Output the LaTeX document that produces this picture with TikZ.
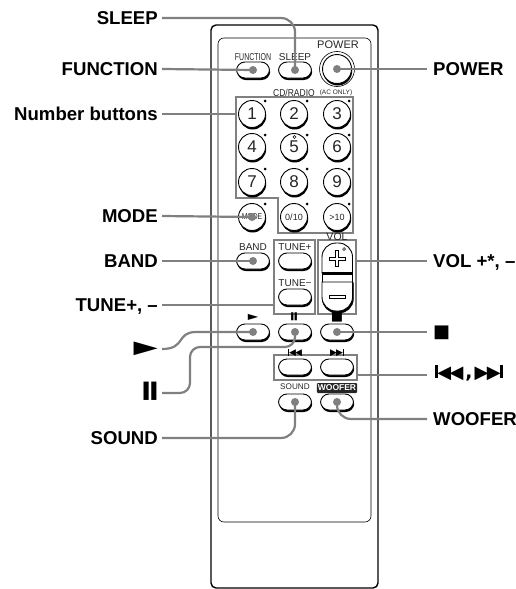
\documentclass[tikz,border=0pt]{standalone}
\usepackage{fontspec}
\usepackage{graphicx}
\setmainfont{Liberation Sans}
\newfontfamily\symfont{DejaVu Sans}
\usetikzlibrary{shadows}
\definecolor{leadgray}{HTML}{808080}
\tikzset{
    lead/.style={draw=leadgray,line width=2.2pt},
    keyframe/.style={draw=leadgray,line width=2.2pt,inner sep=0pt},
    lbl/.style={font=\fontsize{18.6}{18.6}\selectfont\bfseries,text height=13.4pt,text depth=0pt,inner ysep=2pt},
    leftlbl/.style={lbl,anchor=east,inner xsep=4pt},
    rightlbl/.style={lbl,anchor=west,inner xsep=6pt},
    flatkey/.style={draw,fill=white,line width=.9pt,rounded corners=8.5pt,minimum width=33pt,minimum height=16pt,inner sep=0pt,
        general shadow={fill=black,shadow xshift=.7pt,shadow yshift=-2pt}},
    numkey/.style={draw,fill=white,circle,line width=.9pt,minimum size=27pt,inner sep=0pt,font=\fontsize{17}{17}\selectfont,text=black!85,
        general shadow={fill=black,shadow xshift=.7pt,shadow yshift=-2pt}},
    legend/.style={inner sep=0pt,text=black!85,font=\fontsize{10}{10}\selectfont},
    spot/.style={fill=black,circle,inner sep=0pt,minimum size=3pt},
    leadtip/.style={fill=leadgray,circle,inner sep=0pt,minimum size=8pt}
}
\begin{document}
\begin{tikzpicture}[x=1pt,y=-1pt]
    \useasboundingbox (0,0) rectangle (516,589);

    \draw[line width=1.4pt,rounded corners=5pt] (211,25) rectangle (378,588);
    \draw[line width=.6pt,rounded corners=6pt] (218,38) rectangle (371,522);

    \draw[keyframe] (236,97) -- (353,97) -- (353,233) -- (278,233) -- (278,198) -- (236,198) -- cycle;
    \coordinate (framenum) at (236,114);
    \node[keyframe,minimum width=41pt,minimum height=74pt] (frametune) at (294.5,277) {};
    \node[keyframe,minimum width=38pt,minimum height=74pt] (framevol) at (337,277) {};
    \node[keyframe,minimum width=83pt,minimum height=25pt] (frameskip) at (315.5,367.5) {};

    \node[legend] at (253,57) {\scalebox{.7}[1]{FUNCTION}};
    \node[legend] at (295,57) {SLEEP};
    \node[legend,font=\fontsize{11}{11}\selectfont] at (338,45) {POWER};
    \node[legend] at (294,93) {\scalebox{.85}[1]{CD/RADIO}};
    \node[legend,font=\fontsize{6.5}{6.5}\selectfont] at (336,93) {(AC ONLY)};
    \node[legend] at (253,247) {BAND};
    \node[legend] at (295,247) {TUNE+};
    \node[legend] at (295,283) {TUNE−};
    \node[legend,font=\fontsize{10.5}{10.5}\selectfont] at (337,237) {VOL};
    \node[legend,font=\fontsize{8.2}{8.2}\selectfont] at (295,387) {SOUND};
    \node[fill=black!85,text=white,inner sep=1pt,minimum width=40pt,minimum height=10pt,rounded corners=1pt,font=\fontsize{8.5}{8.5}\selectfont\bfseries] at (337,388) {WOOFER};

    \node[flatkey] (keyfunction) at (253,70) {};
    \node[flatkey] (keysleep) at (295,70) {};
    \node[draw,circle,line width=.6pt,minimum size=35pt] (ringpower) at (337,69) {};
    \node[numkey,minimum size=29pt] (keypower) at (337,69) {};

    \node[numkey] (key1) at (252,114) {1};
    \node[numkey] (key2) at (294,114) {2};
    \node[numkey] (key3) at (337,114) {3};
    \node[numkey] (key4) at (252,147) {4};
    \node[numkey] (key5) at (294,147) {5};
    \node[numkey] (key6) at (337,147) {6};
    \node[numkey] (key7) at (252,182) {7};
    \node[numkey] (key8) at (294,182) {8};
    \node[numkey] (key9) at (337,182) {9};
    \node[numkey,font=\fontsize{8.5}{8.5}\selectfont] (keymode) at (252,217) {\scalebox{.8}[1]{MODE}};
    \node[numkey,font=\fontsize{9}{9}\selectfont] (key010) at (294,217) {0/10};
    \node[numkey,font=\fontsize{9}{9}\selectfont] (keyover) at (337,217) {>10};

    \node[spot] at (265,101) {};
    \node[spot] at (307,101) {};
    \node[spot] at (349,101) {};
    \node[spot] at (265,135) {};
    \node[spot] at (307,135) {};
    \node[spot] at (349,135) {};
    \node[spot] at (265,169) {};
    \node[spot] at (307,169) {};
    \node[spot] at (349,169) {};
    \node[spot] at (265,204) {};
    \node[spot] at (307,204) {};
    \node[spot] at (349,204) {};
    \draw[line width=.5pt] (294.5,137) circle (1.6pt);

    \node[flatkey] (keyband) at (253,261) {};
    \node[flatkey] (keytuneup) at (295,261) {};
    \node[flatkey] (keytunedown) at (295,297) {};

    \draw[line width=.6pt] (322,272) -- (322,284);
    \draw[line width=.6pt] (352.5,272) -- (352.5,284);
    \draw[fill=white,line width=.9pt,rounded corners=14pt] (322,273) -- (322,243) -- (352.5,243) [sharp corners] -- (352.5,273) -- cycle;
    \draw[line width=2.8pt] (321.5,273.5) -- (353,273.5);
    \draw[line width=1pt] (322,282) -- (352.5,282);
    \draw[fill=black,rounded corners=14pt] (322.4,282.5) -- (322.4,313) -- (353.4,313) [sharp corners] -- (353.4,282.5) -- cycle;
    \draw[fill=white,line width=.9pt,rounded corners=14pt] (322,282) -- (322,311) -- (352.5,311) [sharp corners] -- (352.5,282) -- cycle;
    \draw[line width=.5pt] (344,249) circle (1.4pt);
    \draw[line width=.7pt,fill=white] (335.5,250.5) -- (338.5,250.5) -- (338.5,257) -- (345,257) -- (345,260) -- (338.5,260) -- (338.5,266.5) -- (335.5,266.5) -- (335.5,260) -- (329,260) -- (329,257) -- (335.5,257) -- cycle;
    \draw[line width=.7pt,fill=white] (329,295.5) rectangle (345,298.5);

    \node[flatkey] (keyplay) at (253,332) {};
    \node[flatkey] (keypause) at (295,332) {};
    \node[flatkey] (keystop) at (337,332) {};
    \node[flatkey] (keyback) at (295,367) {};
    \node[flatkey] (keynext) at (337,367) {};
    \node[flatkey] (keysound) at (295,402) {};
    \node[flatkey] (keywoofer) at (337,402) {};

    \node[inner sep=0pt,font=\symfont\fontsize{8}{8}\selectfont] at (253,317) {\scalebox{1.7}[1]{▶}};
    \node[inner sep=0pt,font=\symfont\fontsize{10.5}{10.5}\selectfont] at (294,317) {\scalebox{.6}[1]{▮}\kern0pt\scalebox{.6}[1]{▮}};
    \node[inner sep=0pt,font=\symfont\fontsize{13}{13}\selectfont] at (337,317) {■};
    \node[inner sep=0pt,font=\symfont\fontsize{9}{9}\selectfont] at (295,353) {\rule{1pt}{7pt}◀\kern-1pt◀};
    \node[inner sep=0pt,font=\symfont\fontsize{9}{9}\selectfont] at (337,353) {▶\kern-1pt▶\rule{1pt}{7pt}};

    \node[leftlbl] (lblsleep) at (162,18) {SLEEP};
    \node[leftlbl] (lblfunction) at (162,69) {FUNCTION};
    \node[leftlbl] (lblnumber) at (162,114) {Number buttons};
    \node[leftlbl] (lblmode) at (162,216) {MODE};
    \node[leftlbl] (lblband) at (162,261) {BAND};
    \node[leftlbl] (lbltune) at (162,305) {TUNE+, –};
    \node[leftlbl,font=\symfont\fontsize{18}{18}\selectfont] (lblplay) at (162,349) {\raisebox{2pt}{\scalebox{1.75}[1]{▶}}};
    \node[leftlbl,font=\symfont\fontsize{24}{24}\selectfont] (lblpause) at (162,393) {\raisebox{2pt}{\scalebox{.58}[1]{▮}\kern0pt\scalebox{.58}[1]{▮}}};
    \node[leftlbl] (lblsound) at (162,438) {SOUND};

    \node[rightlbl] (lblpower) at (427,69) {POWER};
    \node[rightlbl] (lblvol) at (427,261) {VOL +*, –};
    \node[rightlbl,font=\symfont\fontsize{18}{18}\selectfont] (lblstop) at (427,331) {■};
    \node[rightlbl,font=\symfont\fontsize{18}{18}\selectfont] (lblskip) at (427,375) {\raisebox{3.5pt}{\kern2pt\rule{2.6pt}{13pt}\kern-.5pt◀\kern-1.5pt◀\kern2pt{\bfseries\fontsize{18.6}{18.6}\selectfont ,}\kern2pt▶\kern-1.5pt▶\kern-.5pt\rule{2.6pt}{13pt}}};
    \node[rightlbl] (lblwoofer) at (427,419) {WOOFER};

    \coordinate (pausebend) at (190,347);
    \draw[lead,rounded corners=14pt] (lblsleep.east) -| (keysleep.center);
    \draw[lead] (lblfunction.east) -- (keyfunction.center);
    \draw[lead] (lblnumber.east) -- (framenum);
    \draw[lead] (lblmode.east) -- (keymode.center);
    \draw[lead] (lblband.east) -- (keyband.center);
    \draw[lead] (lbltune.east) -- (frametune.west |- lbltune.east);
    \draw[lead] (lblplay.east) .. controls (186,349) and (176,332) .. (196,332) -- (keyplay.center);
    \draw[lead,rounded corners=10pt] (lblpause.east) -| (pausebend) -| (keypause.center);
    \draw[lead,rounded corners=14pt] (keysound.center) |- (lblsound.east);
    \draw[lead] (keypower.center) -- (lblpower.west);
    \draw[lead] (framevol.east |- lblvol.west) -- (lblvol.west);
    \draw[lead] (keystop.center) -- (lblstop.west |- keystop.center);
    \draw[lead] (frameskip.east |- lblskip.west) -- (lblskip.west);
    \draw[lead,rounded corners=14pt] (keywoofer.center) |- (lblwoofer.west);

    \node[leadtip] at (keyfunction) {};
    \node[leadtip] at (keysleep) {};
    \node[leadtip] at (keypower) {};
    \node[leadtip] at (keymode) {};
    \node[leadtip] at (keyband) {};
    \node[leadtip] at (keyplay) {};
    \node[leadtip] at (keypause) {};
    \node[leadtip] at (keystop) {};
    \node[leadtip] at (keysound) {};
    \node[leadtip] at (keywoofer) {};
\end{tikzpicture}
\end{document}
